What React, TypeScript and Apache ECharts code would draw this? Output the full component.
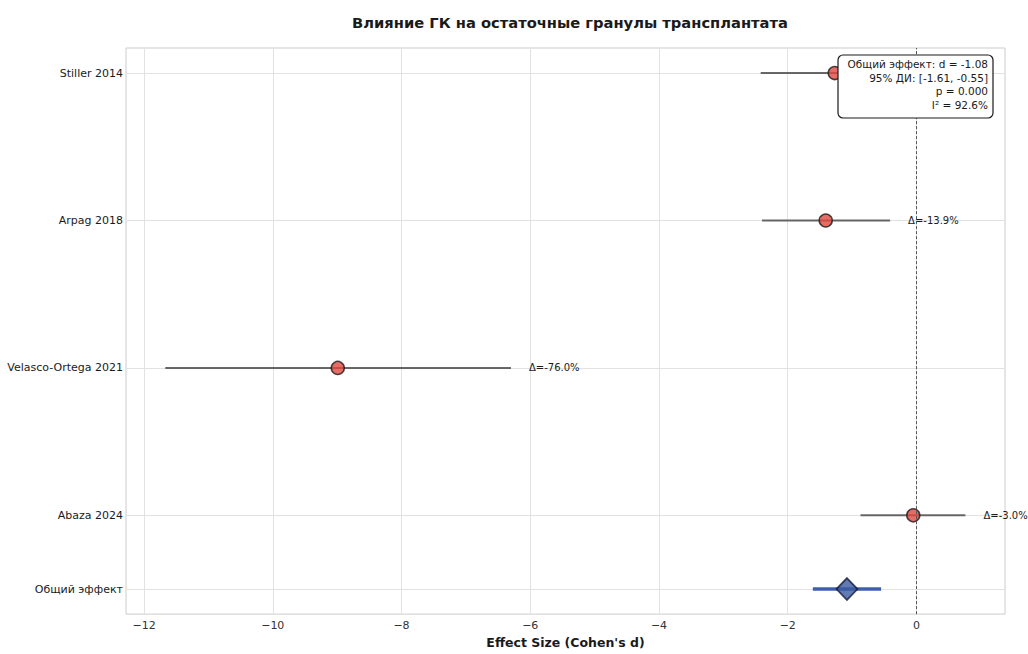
import React, { useEffect, useRef } from "react";
import * as echarts from "echarts";

const studies = ["Stiller 2014", "Arpag 2018", "Velasco-Ortega 2021", "Abaza 2024"];
const positions = [4, 3, 2, 1];
const effects = [-1.27, -1.41, -8.99, -0.05];
const ciLow = [-2.42, -2.4, -11.67, -0.87];
const ciHigh = [-0.12, -0.41, -6.3, 0.76];
const deltas: (string | null)[] = [null, "Δ=-13.9%", "Δ=-76.0%", "Δ=-3.0%"];

const pooledLabel = "Общий эффект";
const pooledPos = 0.5;
const pooledEffect = -1.08;
const pooledLow = -1.61;
const pooledHigh = -0.55;

const xTicks = [-12, -10, -8, -6, -4, -2, 0];
const statLines = ["Общий эффект: d = -1.08", "95% ДИ: [-1.61, -0.55]", "p = 0.000", "I² = 92.6%"];

const FONT = "'DejaVu Sans', Verdana, sans-serif";

export default function App() {
  const ref = useRef<HTMLDivElement>(null);
  useEffect(() => {
    if (!ref.current) return;
    const chart = echarts.init(ref.current, undefined, { renderer: "svg" });
    const yPos = [...positions, pooledPos];
    const yNames = [...studies, pooledLabel];

    const errData = studies.map((_, i) => [positions[i], ciLow[i], ciHigh[i], i]);
    const labelData = studies
      .map((_, i) => [positions[i], ciHigh[i], i])
      .filter((d) => deltas[d[2] as number] !== null);

    chart.setOption({
      animation: false,
      backgroundColor: "#ffffff",
      textStyle: { fontFamily: FONT },
      title: {
        text: "Влияние ГК на остаточные гранулы трансплантата",
        left: 565,
        textAlign: "center",
        top: 10,
        textStyle: { fontSize: 14.7, fontWeight: "bold", color: "#1a1a1a", fontFamily: FONT },
      },
      grid: {
        left: 126,
        right: 23,
        top: 48,
        bottom: 39,
        show: true,
        borderColor: "#cccccc",
        borderWidth: 1,
      },
      xAxis: {
        type: "value",
        min: -12.28,
        max: 1.375,
        name: "Effect Size (Cohen's d)",
        nameLocation: "middle",
        nameGap: 20,
        nameTextStyle: { fontSize: 12.5, fontWeight: "bold", color: "#1a1a1a", fontFamily: FONT },
        axisLine: { show: false },
        axisTick: { show: false, customValues: xTicks },
        axisLabel: {
          customValues: xTicks,
          fontSize: 11,
          color: "#333333",
          margin: 6,
          formatter: (v: number) => (v < 0 ? "−" + Math.abs(v) : String(v)),
        },
        splitLine: { show: true, lineStyle: { color: "#e2e2e2", width: 1 } },
      },
      yAxis: {
        type: "value",
        min: 0.33,
        max: 4.17,
        axisLine: { show: false },
        axisTick: { show: false, customValues: yPos },
        axisLabel: {
          customValues: yPos,
          fontSize: 11,
          color: "#1a1a1a",
          margin: 3,
          formatter: (v: number) => {
            const idx = yPos.findIndex((p) => Math.abs(p - v) < 1e-6);
            return idx >= 0 ? yNames[idx] : "";
          },
        },
        splitLine: { show: true, lineStyle: { color: "#e2e2e2", width: 1 } },
      },
      series: [
        {
          type: "custom",
          name: "ci",
          z: 3,
          renderItem: (params: any, api: any) => {
            const y = api.value(0);
            const p1 = api.coord([api.value(1), y]);
            const p2 = api.coord([api.value(2), y]);
            return {
              type: "line",
              shape: { x1: p1[0], y1: p1[1], x2: p2[0], y2: p2[1] },
              style: { stroke: "#4d4d4d", lineWidth: 2, opacity: 0.85 },
            };
          },
          encode: { x: [1, 2], y: 0 },
          data: errData,
        },
        {
          type: "custom",
          name: "delta",
          z: 3,
          renderItem: (params: any, api: any) => {
            const i = api.value(2);
            const p = api.coord([api.value(1) + 0.28, api.value(0)]);
            return {
              type: "text",
              x: p[0],
              y: p[1],
              style: {
                text: deltas[i] || "",
                fill: "#1a1a1a",
                font: `10px ${FONT}`,
                align: "left",
                verticalAlign: "middle",
              },
            };
          },
          encode: { x: 1, y: 0 },
          data: labelData,
        },
        {
          type: "scatter",
          name: "studies",
          z: 4,
          symbol: "circle",
          symbolSize: 13,
          itemStyle: { color: "#e0483e", borderColor: "#1a1a1a", borderWidth: 1.5 },
          data: studies.map((_, i) => [effects[i], positions[i]]),
          markLine: {
            silent: true,
            symbol: "none",
            label: { show: false },
            lineStyle: { color: "#555555", type: [3, 2], width: 1 },
            data: [{ xAxis: 0 }],
          },
        },
        {
          type: "line",
          name: "pooledCI",
          z: 5,
          symbol: "none",
          lineStyle: { color: "#3f5fae", width: 3.5 },
          data: [
            [pooledLow, pooledPos],
            [pooledHigh, pooledPos],
          ],
        },
        {
          type: "scatter",
          name: "pooled",
          z: 6,
          symbol: "diamond",
          symbolSize: [21, 22],
          itemStyle: { color: "#3a5aa0", borderColor: "#141a3a", borderWidth: 1.8 },
          data: [[pooledEffect, pooledPos]],
        },
      ],
      graphic: [
        {
          type: "rect",
          z: 100,
          zlevel: 0,
          shape: { x: 838, y: 55, width: 155, height: 63, r: 5 },
          style: { fill: "#ffffff", stroke: "#1a1a1a", lineWidth: 1.2 },
        },
        {
          type: "text",
          z: 101,
          x: 988,
          y: 57,
          style: {
            text: statLines.join("\n"),
            fill: "#1a1a1a",
            font: `10.5px ${FONT}`,
            align: "right",
            verticalAlign: "top",
            lineHeight: 13.7,
          },
        },
      ],
    });
    return () => chart.dispose();
  }, []);
  return (
    <div
      ref={ref}
      style={{ position: "fixed", left: 0, top: 0, width: 1028, height: 654 }}
    />
  );
}
